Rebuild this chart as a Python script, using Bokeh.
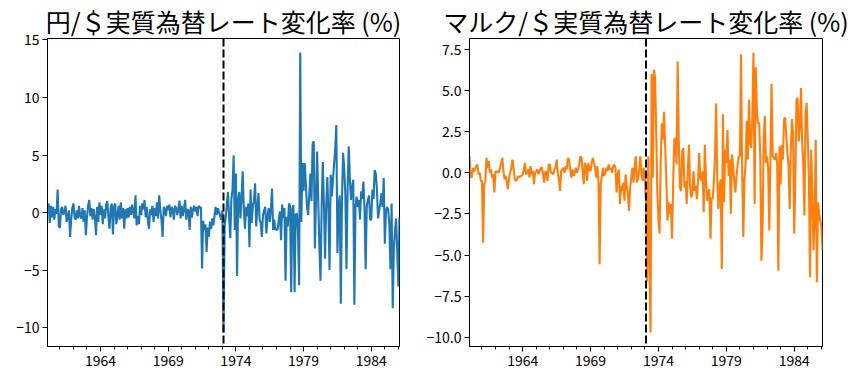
from bokeh.plotting import figure
from bokeh.layouts import row
from bokeh.models import Range1d, FixedTicker, Span
from bokeh.embed import file_html
from bokeh.resources import INLINE

# ---------------- data (monthly % changes, Feb 1960 .. Feb 1986) ----------------
start_year, start_month = 1960, 2

yen_change = [
    0.2, 0.8, -0.9, 0.6, -0.4, 0.5, -0.6, 0.3, -0.1, 2.0, -1.2,            # 1960 (Feb-Dec)
    -1.3, 0.3, 0.5, -0.2, 0.1, 0.6, -0.8, -0.3, 0.2, -2.1, -0.6, 0.4,      # 1961
    0.8, -0.4, -0.6, 0.2, -0.5, 0.6, -0.3, -0.5, 0.4, -0.8, 0.2, -1.95,    # 1962
    -0.4, 0.6, 1.1, -0.3, 0.4, -0.6, 0.3, -0.4, -1.95, 0.5, -0.8, 0.9,     # 1963
    -0.2, 0.6, -1.0, 0.3, -0.5, 0.7, 1.0, -0.4, -1.4, 0.4, 0.8, -1.9,      # 1964
    0.5, 0.8, -1.0, -0.3, 0.6, -0.6, 0.9, -0.5, 0.4, -1.4, 0.3, -0.5,      # 1965
    0.4, -0.4, 0.5, -0.2, 0.7, 0.1, -0.5, 1.5, -1.1, -0.3, -1.0, 0.6,      # 1966
    -0.2, 0.8, 0.3, 1.1, -0.4, 0.5, -0.7, -1.4, 0.3, -0.2, 0.6, -0.8,      # 1967
    0.4, -0.3, 0.9, -0.5, 1.5, 0.2, -0.6, -2.1, 0.5, 0.3, -0.3, 0.6,       # 1968
    0.2, 0.7, -0.4, 0.5, 0.3, -0.6, 0.6, 0.4, -0.2, 0.3, 1.05, -0.5,       # 1969
    0.6, -0.3, 0.4, 1.1, -0.6, 0.3, 0.2, -1.5, 0.5, -0.4, 0.3, 0.6,        # 1970
    0.1, 0.5, -0.3, 0.6, 0.4, 0.5, -4.85, -0.7, -1.5, -1.0, -3.4, -1.3,    # 1971
    -2.1, -0.8, -1.4, -0.5, -1.1, -0.3, 0.5, -0.2, 0.4, 0.1, -0.3, -0.6,   # 1972
    0.2, -10.4, -1.2, -0.4, 0.7, 1.8, -0.5, -2.2, 1.2, 2.0, 4.97, -1.5,    # 1973
    3.4, -5.5, 1.1, 1.8, -0.5, 1.2, 3.6, 0.4, -1.4, 0.5, -0.3, 0.8,        # 1974
    -3.0, 2.0, -0.9, 0.6, 1.0, 2.55, -1.2, 0.4, 1.7, -0.6, -0.9, -2.1,     # 1975
    -0.2, 0.2, 0.5, -1.8, -0.35, 0.4, -0.8, 0.3, 2.1, -1.5, -0.6, -1.5,    # 1976
    -1.4, -1.5, -0.6, 0.1, -2.4, 0.7, -0.5, 0.4, -5.9, -0.35, -1.2, 0.8,   # 1977
    0.6, -6.9, 0.3, 0.67, -6.9, -0.2, -0.06, -1.5, -6.3, 13.9, -0.8, 4.3,  # 1978
    1.9, 4.3, 2.5, 0.5, -0.2, 1.5, 3.4, 1.0, 6.0, 6.2, -3.1, 1.0,          # 1979
    5.3, 1.0, -3.0, -5.9, 0.5, 4.4, 0.8, -4.0, 0.5, 3.1, 0.2, -5.0,        # 1980
    3.3, 1.4, 2.8, 4.2, 5.5, 7.6, -3.5, 0.5, 1.5, -7.9, 1.0, 5.2,          # 1981
    3.9, 1.5, -4.9, 2.0, 5.75, 3.0, 1.1, 2.2, 2.85, -8.0, 0.5, 1.4,        # 1982
    0.5, 1.1, -0.6, 1.85, 1.2, 2.7, 0.3, -4.9, 0.6, 1.1, 1.5, -0.6,        # 1983
    -0.6, 2.0, 1.2, 3.7, 3.4, 2.0, -0.5, 0.2, 0.8, 1.7, 0.5, 3.0,          # 1984
    -2.7, 0.1, 0.5, 0.2, -1.0, -4.9, 0.8, -8.3, -3.2, -1.5, -0.5, -3.5,    # 1985
    -6.4, -0.35,                                                           # 1986 (Jan-Feb)
]

mark_change = [
    1.0, -0.2, -0.3, 0.3, 0.1, 0.2, 0.4, 0.5, -0.1, 0.0, -0.5,             # 1960 (Feb-Dec)
    -0.5, -4.25, -0.7, -0.5, 0.9, 0.3, 0.7, 0.0, 0.2, -0.3, -0.1, -1.2,    # 1961
    0.1, 0.0, 0.1, 0.0, 0.3, 0.6, 0.9, 0.1, -0.4, -0.2, -0.6, -1.0,        # 1962
    -0.3, 0.0, 0.3, 0.8, 0.3, -0.4, -0.5, -0.4, -0.2, -0.3, -0.2, -0.2,    # 1963
    -0.1, 0.2, 0.6, -0.1, 0.0, 0.2, -0.3, 0.4, -0.1, 0.1, -0.7, 0.0,       # 1964
    0.1, 0.2, -0.1, 0.1, 0.3, 0.3, -0.1, -0.6, 0.1, 0.0, -0.5, 0.5,        # 1965
    0.5, 0.0, 0.0, -0.1, 0.2, 0.3, 0.8, 0.0, -0.4, -1.1, 0.1, 0.2,         # 1966
    0.3, 0.0, 0.4, 0.2, 0.9, 0.8, 0.2, -0.3, 0.2, -0.2, 0.0, 0.3,          # 1967
    0.0, 0.2, 0.5, 1.0, 0.9, 0.1, -0.7, 0.6, 0.4, -0.5, 0.6, 0.2,          # 1968
    0.1, 0.6, 0.9, 0.6, 0.3, -0.3, 0.4, -0.5, -5.55, -0.7, -0.2, 0.3,      # 1969
    -0.2, 0.0, 0.3, 0.1, 0.5, 0.2, 0.3, 0.0, 0.4, 0.5, 0.3, -1.2,          # 1970
    -0.1, 0.2, -1.9, -0.8, -1.1, -0.6, -1.7, -0.1, -0.8, -1.3, -2.3, -0.9, # 1971
    -0.3, 0.3, -0.6, 0.4, 1.0, -0.6, -0.3, 0.2, 1.0, -0.1, -0.5, 0.3,      # 1972
    -0.5, -1.7, -6.6, 1.0, -5.3, -9.7, 6.0, -0.3, 6.25, 5.75, 2.6, -1.2,   # 1973
    -2.9, -3.7, 0.7, 3.0, 2.0, 3.7, 1.5, -0.5, -2.9, -1.8, -2.5, -1.9,     # 1974
    -4.0, -0.7, 2.0, 2.1, 0.5, 6.75, 1.9, -0.9, -1.1, 1.3, 1.5, -0.9,      # 1975
    -0.5, -1.9, 0.2, 1.7, -0.9, -1.5, -1.2, 0.1, -1.1, -0.8, -1.6, -0.5,   # 1976
    1.2, -0.3, -0.5, 0.1, -2.4, 1.7, -0.3, -1.7, -1.3, -1.0, -4.0, -1.5,   # 1977
    -1.6, -0.5, 1.0, 4.2, -0.4, -2.2, -0.8, -0.4, -5.85, 3.55, -1.8, 1.4,  # 1978
    0.6, 2.6, -0.2, 0.8, -2.5, 1.1, 0.4, -0.5, -1.2, -0.2, 0.5, 1.0,       # 1979
    1.0, 7.2, 0.0, -3.9, -0.4, 0.5, 3.15, 0.8, 4.45, 1.8, 1.5, 3.45,       # 1980
    7.3, -1.9, 6.4, 3.85, 3.0, 3.05, 1.0, -5.35, -3.6, 2.0, 3.45, 0.6,     # 1981
    1.0, 0.2, -3.5, 1.2, 5.4, 1.0, 0.9, 0.8, 1.2, 0.5, -5.95, 1.6,         # 1982
    -0.7, 1.7, 0.8, 3.25, 3.35, 2.25, 1.2, 0.4, -2.2, 1.5, 3.25, 2.4,      # 1983
    -3.7, -0.4, 4.4, 4.55, 1.9, 2.8, 5.15, 1.9, 0.5, -2.6, 3.65, 4.25,     # 1984
    2.0, -0.5, -6.35, 1.4, -1.0, -4.7, -2.8, 2.0, -6.65, -1.8, -2.5, -2.9, # 1985
    -3.2, -4.65,                                                           # 1986 (Jan-Feb)
]

break_date = 1973 + 1 / 12          # floating-rate regime begins (Feb 1973)
x_major_ticks = [1964, 1969, 1974, 1979, 1984]
x_minor_ticks = list(range(1960, 1987))
yen_yticks = [-10, -5, 0, 5, 10, 15]
mark_yticks = [-10, -7.5, -5, -2.5, 0, 2.5, 5, 7.5]
titles = ["円/＄実質為替レート変化率 (%)", "マルク/＄実質為替レート変化率 (%)"]

FONT = "Noto Sans CJK JP"


def month_axis(n):
    return [start_year + (start_month - 1 + i) / 12 for i in range(n)]


def make_panel(values, color, title, yticks, ylabel_fmt, width, border_left, border_right):
    x = month_axis(len(values))
    lo, hi = min(values), max(values)
    pad = 0.05 * (hi - lo)
    p = figure(width=width, height=371, output_backend="svg", toolbar_location=None,
               x_range=Range1d(x[0], x[-1]), y_range=Range1d(lo - pad, hi + pad),
               min_border_left=border_left, min_border_right=border_right,
               min_border_top=38, min_border_bottom=25)
    p.title.text = title
    p.title.align = "center"
    p.title.text_font = FONT
    p.title.text_font_size = "25px"
    p.title.text_font_style = "normal"
    p.title.text_color = "black"
    p.title.standoff = 0
    p.title.offset = 0

    p.line(x, values, line_color=color, line_width=2.1)
    p.add_layout(Span(location=break_date, dimension="height", line_color="black",
                      line_width=2, line_dash="8 3"))

    p.grid.visible = False
    p.outline_line_color = "black"
    p.outline_line_width = 1
    p.background_fill_color = "white"
    p.border_fill_color = "white"

    p.xaxis.ticker = FixedTicker(ticks=x_major_ticks, minor_ticks=x_minor_ticks)
    p.yaxis.ticker = FixedTicker(ticks=yticks)
    p.yaxis.major_label_overrides = {t: ylabel_fmt(t).replace("-", "\u2212") for t in yticks}
    for ax in (p.xaxis, p.yaxis):
        ax.axis_line_color = "black"
        ax.axis_line_width = 1
        ax.major_tick_line_color = "black"
        ax.major_tick_in = 0
        ax.major_tick_out = 5
        ax.major_label_text_font = FONT
        ax.major_label_text_font_size = "14px"
        ax.major_label_text_color = "black"
        ax.major_label_standoff = 3
    p.xaxis.minor_tick_line_color = "black"
    p.xaxis.minor_tick_in = 0
    p.xaxis.minor_tick_out = 3
    p.yaxis.minor_tick_line_color = None
    return p


p1 = make_panel(yen_change, "#1f77b4", titles[0], yen_yticks,
                lambda t: f"{t:d}", 420, 47, 21)
p2 = make_panel(mark_change, "#ff7f0e", titles[1], mark_yticks,
                lambda t: f"{t:.1f}", 438, 49, 36)

layout = row(p1, p2)
open("out.html", "w").write(file_html(layout, INLINE))
